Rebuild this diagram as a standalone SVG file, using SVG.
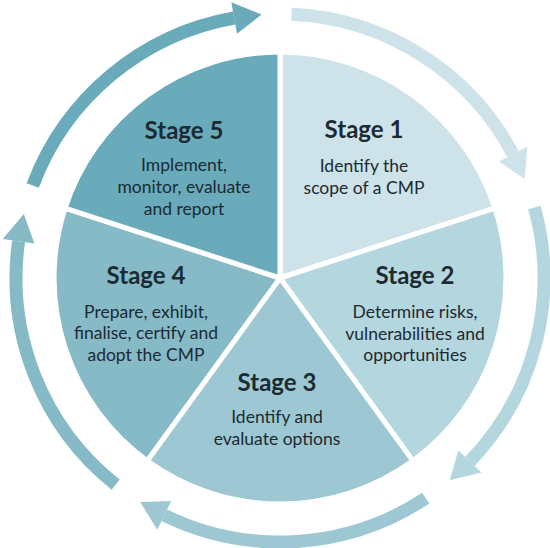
<svg xmlns="http://www.w3.org/2000/svg" width="550" height="548" viewBox="0 0 550 548">
<style>
.slice{stroke:#fff;stroke-width:5;stroke-linejoin:miter}
.band{fill:none;stroke-width:13}
.t{font-family:Lato,"Open Sans","Liberation Sans",sans-serif;font-weight:700;font-size:24px;fill:#1c2a32;text-anchor:middle}
.b{font-family:Lato,"Open Sans","Liberation Sans",sans-serif;font-size:17.5px;fill:#1c2a32;text-anchor:middle}
</style>
<rect width="550" height="548" fill="#fff"/>
<g id="connectors">
<g id="arrow-1-2" transform="rotate(0 280 278)">
<path class="band" stroke="#cde3e9" d="M291.5,14.25 A264,264 0 0 1 513.1,154.1"/>
<polygon fill="#cde3e9" points="499,161.6 527.2,146.5 524.8,179.1"/>
</g>
<g id="arrow-2-3" transform="rotate(72 280 278)">
<path class="band" stroke="#b4d6de" d="M291.5,14.25 A264,264 0 0 1 513.1,154.1"/>
<polygon fill="#b4d6de" points="499,161.6 527.2,146.5 524.8,179.1"/>
</g>
<g id="arrow-3-4" transform="rotate(144 280 278)">
<path class="band" stroke="#9dc8d3" d="M291.5,14.25 A264,264 0 0 1 513.1,154.1"/>
<polygon fill="#9dc8d3" points="499,161.6 527.2,146.5 524.8,179.1"/>
</g>
<g id="arrow-4-5" transform="rotate(216 280 278)">
<path class="band" stroke="#86bac7" d="M291.5,14.25 A264,264 0 0 1 513.1,154.1"/>
<polygon fill="#86bac7" points="499,161.6 527.2,146.5 524.8,179.1"/>
</g>
<g id="arrow-5-1" transform="rotate(288 280 278)">
<path class="band" stroke="#6aabbb" d="M291.5,14.25 A264,264 0 0 1 513.1,154.1"/>
<polygon fill="#6aabbb" points="499,161.6 527.2,146.5 524.8,179.1"/>
</g>
</g>
<g id="stage1">
<path class="slice" fill="#cde3e9" d="M280,278 L280,52 A226,226 0 0 1 494.9,208.2 Z"/>
<text class="t" x="364" y="138">Stage 1</text>
<text class="b" x="364" y="172">Identify the</text>
<text class="b" x="364" y="193.5">scope of a CMP</text>
</g>
<g id="stage2">
<path class="slice" fill="#b4d6de" d="M280,278 L494.9,208.2 A226,226 0 0 1 412.8,460.8 Z"/>
<text class="t" x="415" y="284">Stage 2</text>
<text class="b" x="415" y="318">Determine risks,</text>
<text class="b" x="415" y="339.5">vulnerabilities and</text>
<text class="b" x="415" y="361">opportunities</text>
</g>
<g id="stage3">
<path class="slice" fill="#9dc8d3" d="M280,278 L412.8,460.8 A226,226 0 0 1 147.2,460.8 Z"/>
<text class="t" x="277" y="391">Stage 3</text>
<text class="b" x="277" y="423">Identify and</text>
<text class="b" x="277" y="445">evaluate options</text>
</g>
<g id="stage4">
<path class="slice" fill="#86bac7" d="M280,278 L147.2,460.8 A226,226 0 0 1 65.1,208.2 Z"/>
<text class="t" x="146" y="284">Stage 4</text>
<text class="b" x="146" y="317.5">Prepare, exhibit,</text>
<text class="b" x="146" y="339">finalise, certify and</text>
<text class="b" x="146" y="361">adopt the CMP</text>
</g>
<g id="stage5">
<path class="slice" fill="#6aabbb" d="M280,278 L65.1,208.2 A226,226 0 0 1 280,52 Z"/>
<text class="t" x="184" y="138.5">Stage 5</text>
<text class="b" x="184" y="171">Implement,</text>
<text class="b" x="184" y="193">monitor, evaluate</text>
<text class="b" x="184" y="215">and report</text>
</g>
</svg>
